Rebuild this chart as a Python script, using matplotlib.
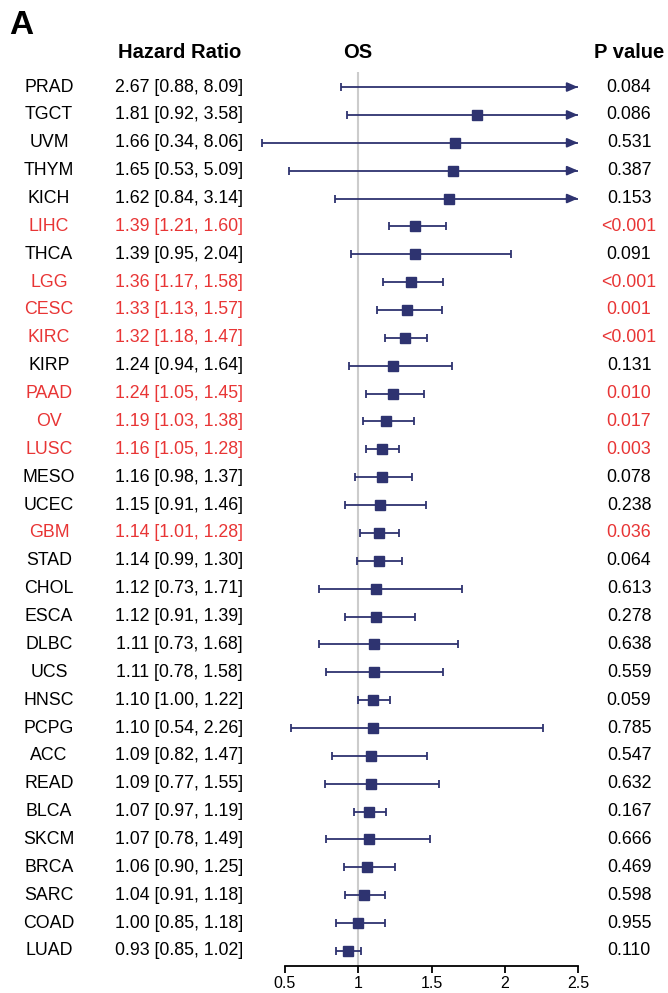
import matplotlib
matplotlib.use("Agg")
import matplotlib.pyplot as plt
import matplotlib.transforms as mtransforms

plt.rcParams['font.family'] = ['Liberation Sans', 'DejaVu Sans']

# %% data
cancers = ["PRAD", "TGCT", "UVM", "THYM", "KICH", "LIHC", "THCA", "LGG", "CESC", "KIRC",
           "KIRP", "PAAD", "OV", "LUSC", "MESO", "UCEC", "GBM", "STAD", "CHOL", "ESCA",
           "DLBC", "UCS", "HNSC", "PCPG", "ACC", "READ", "BLCA", "SKCM", "BRCA", "SARC",
           "COAD", "LUAD"]
hr = [2.67, 1.81, 1.66, 1.65, 1.62, 1.39, 1.39, 1.36, 1.33, 1.32,
      1.24, 1.24, 1.19, 1.16, 1.16, 1.15, 1.14, 1.14, 1.12, 1.12,
      1.11, 1.11, 1.10, 1.10, 1.09, 1.09, 1.07, 1.07, 1.06, 1.04,
      1.00, 0.93]
lower = [0.88, 0.92, 0.34, 0.53, 0.84, 1.21, 0.95, 1.17, 1.13, 1.18,
         0.94, 1.05, 1.03, 1.05, 0.98, 0.91, 1.01, 0.99, 0.73, 0.91,
         0.73, 0.78, 1.00, 0.54, 0.82, 0.77, 0.97, 0.78, 0.90, 0.91,
         0.85, 0.85]
upper = [8.09, 3.58, 8.06, 5.09, 3.14, 1.60, 2.04, 1.58, 1.57, 1.47,
         1.64, 1.45, 1.38, 1.28, 1.37, 1.46, 1.28, 1.30, 1.71, 1.39,
         1.68, 1.58, 1.22, 2.26, 1.47, 1.55, 1.19, 1.49, 1.25, 1.18,
         1.18, 1.02]
pvals = ["0.084", "0.086", "0.531", "0.387", "0.153", "<0.001", "0.091", "<0.001", "0.001", "<0.001",
         "0.131", "0.010", "0.017", "0.003", "0.078", "0.238", "0.036", "0.064", "0.613", "0.278",
         "0.638", "0.559", "0.059", "0.785", "0.547", "0.632", "0.167", "0.666", "0.469", "0.598",
         "0.955", "0.110"]
xticks = [0.5, 1, 1.5, 2, 2.5]

navy = '#2E3370'
red = '#E83535'
W, H = 668, 993

# %% plot
fig = plt.figure(figsize=(W / 100, H / 100), dpi=100)
ax = fig.add_axes([285 / W, 1 - 966 / H, 293 / W, 894 / H])
n = len(cancers)
ax.set_xlim(0.5, 2.5)
ax.set_ylim(n - 1 + 0.54, -0.54)

ax.axvline(1, color='#CCCCCC', lw=1.5, zorder=0)

xmax = 2.5
for i in range(n):
    hi = min(upper[i], xmax)
    ax.plot([lower[i], hi], [i, i], color=navy, lw=1.3, clip_on=False, solid_capstyle='butt')
    ax.plot([lower[i]], [i], marker='|', ms=5.5, mew=1.3, color=navy, clip_on=False)
    if upper[i] > xmax:
        ax.annotate('', xy=(xmax, i), xytext=(xmax - 0.08, i),
                    arrowprops=dict(arrowstyle='-|>,head_length=0.65,head_width=0.28',
                                    color=navy, lw=1.3, shrinkA=0, shrinkB=0),
                    annotation_clip=False)
    else:
        ax.plot([upper[i]], [i], marker='|', ms=5.5, mew=1.3, color=navy, clip_on=False)
    if hr[i] <= xmax:
        ax.plot([hr[i]], [i], marker='s', ms=7.5, color=navy, zorder=3)

for s in ['top', 'right', 'left']:
    ax.spines[s].set_visible(False)
ax.spines['bottom'].set_linewidth(1.3)
ax.set_yticks([])
ax.set_xticks(xticks)
ax.set_xticklabels([f"{t:g}" for t in xticks])
ax.tick_params(axis='x', direction='out', length=5, width=1.3, pad=2, labelsize=11.5)

# text columns: x in figure fraction, y in data rows
trans = mtransforms.blended_transform_factory(fig.transFigure, ax.transData)
for i in range(n):
    c = red if pvals[i].startswith('<') or float(pvals[i]) < 0.05 else 'black'
    ax.text(49 / W, i, cancers[i], transform=trans, ha='center', va='center',
            fontsize=12.8, color=c)
    ax.text(179 / W, i, f"{hr[i]:.2f} [{lower[i]:.2f}, {upper[i]:.2f}]", transform=trans,
            ha='center', va='center', fontsize=12.8, color=c)
    ax.text(629 / W, i, pvals[i], transform=trans, ha='center', va='center',
            fontsize=12.8, color=c)

fig.text(180 / W, 1 - 52 / H, "Hazard Ratio", ha='center', va='center', fontsize=14.5, fontweight='bold')
fig.text(358 / W, 1 - 52 / H, "OS", ha='center', va='center', fontsize=14.5, fontweight='bold')
fig.text(629 / W, 1 - 52 / H, "P value", ha='center', va='center', fontsize=14.5, fontweight='bold')
fig.text(9 / W, 1 - 25 / H, "A", ha='left', va='center', fontsize=24, fontweight='bold')

plt.savefig('out.png', dpi=100)
plt.close()
